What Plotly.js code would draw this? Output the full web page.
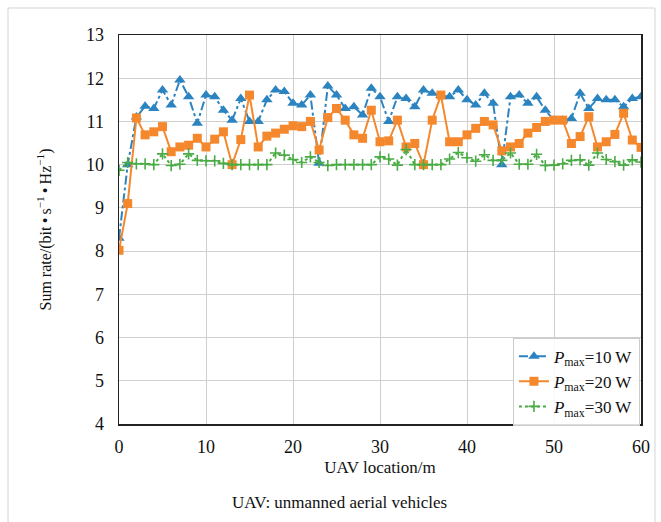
<!DOCTYPE html>
<html>
<head>
<meta charset="utf-8">
<script src="https://cdn.plot.ly/plotly-3.0.1.min.js"></script>
<style>html,body{margin:0;padding:0;background:#fff;}#chart{width:661px;height:522px;}</style>
</head>
<body>
<div id="chart"></div>
<script>
const locations = [0,1,2,3,4,5,6,7,8,9,10,11,12,13,14,15,16,17,18,19,20,21,22,23,24,25,26,27,28,29,30,31,32,33,34,35,36,37,38,39,40,41,42,43,44,45,46,47,48,49,50,51,52,53,54,55,56,57,58,59,60];
const rateP10 = [8.3,10.0,11.1,11.35,11.3,11.73,11.38,11.96,11.57,10.96,11.61,11.57,11.26,11.03,11.53,11.0,11.0,11.5,11.73,11.69,11.42,11.38,11.61,10.03,11.82,11.61,11.3,11.34,11.15,11.77,11.57,11.0,11.57,11.53,11.34,11.73,11.65,11.6,11.57,11.73,11.5,11.38,11.65,11.42,10.0,11.57,11.61,11.42,11.57,11.26,11.03,11.03,11.07,11.65,11.3,11.53,11.5,11.5,11.34,11.53,11.57];
const rateP20 = [8.02,9.1,11.08,10.69,10.76,10.88,10.3,10.41,10.45,10.61,10.41,10.59,10.76,10.0,10.58,11.61,10.41,10.66,10.73,10.82,10.9,10.88,11.0,10.34,11.09,11.3,11.03,10.69,10.61,11.26,10.53,10.55,11.03,10.41,10.49,10.0,11.03,11.61,10.53,10.53,10.69,10.84,11.0,10.92,10.32,10.41,10.49,10.73,10.86,11.0,11.03,11.03,10.49,10.65,11.11,10.41,10.53,10.7,11.19,10.57,10.4];
const rateP30 = [9.87,10.05,10.02,10.02,10.0,10.25,9.98,10.01,10.25,10.1,10.09,10.09,10.03,10.0,10.0,10.0,10.0,10.0,10.27,10.22,10.12,10.05,10.18,10.05,9.98,10.0,10.0,10.0,10.0,10.0,10.18,10.13,9.99,10.35,10.0,10.0,10.0,10.0,10.13,10.28,10.16,10.08,10.23,10.1,10.1,10.27,10.01,10.01,10.24,9.98,9.99,10.02,10.1,10.11,9.99,10.27,10.12,10.07,9.99,10.11,10.06];
const seriesNames = ['<i>P</i><sub>max</sub>=10 W','<i>P</i><sub>max</sub>=20 W','<i>P</i><sub>max</sub>=30 W'];
const xTickVals = [0,10,20,30,40,50,60];
const yTickVals = [4,5,6,7,8,9,10,11,12,13];

const serif = "'Liberation Serif', serif";
const traces = [
  {x: locations, y: rateP10, name: seriesNames[0], mode: 'lines+markers',
   line: {color: '#2b83c0', width: 2, dash: 'dashdot'},
   marker: {symbol: 'triangle-up', size: 10, color: '#2b83c0'}},
  {x: locations, y: rateP20, name: seriesNames[1], mode: 'lines+markers',
   line: {color: '#f5882c', width: 2},
   marker: {symbol: 'square', size: 9, color: '#f5882c'}},
  {x: locations, y: rateP30, name: seriesNames[2], mode: 'lines+markers',
   line: {color: '#4aac45', width: 2, dash: 'dot'},
   marker: {symbol: 'cross-thin', size: 8, color: '#4aac45', line: {color: '#4aac45', width: 1.6}}}
];

const frameColor = '#d4d4d4';
const layout = {
  width: 661, height: 522,
  margin: {l: 119, r: 20, t: 35, b: 98},
  paper_bgcolor: '#fff', plot_bgcolor: '#fff',
  font: {family: serif, size: 17, color: '#111'},
  showlegend: true,
  xaxis: {
    range: [0, 60], tickvals: xTickVals, showgrid: true, gridcolor: '#cfcfcf', gridwidth: 1,
    zeroline: false, showline: true, linecolor: '#222', linewidth: 1.5, mirror: true,
    ticks: 'outside', ticklen: 6, tickcolor: 'rgba(0,0,0,0)',
    tickfont: {family: serif, size: 18, color: '#111'},
    title: {text: 'UAV location/m', font: {family: serif, size: 17, color: '#111'}, standoff: 5}
  },
  yaxis: {
    range: [4, 13], tickvals: yTickVals, showgrid: true, gridcolor: '#cfcfcf', gridwidth: 1,
    zeroline: false, showline: true, linecolor: '#222', linewidth: 1.5, mirror: true,
    ticks: 'outside', ticklen: 10, tickcolor: 'rgba(0,0,0,0)',
    tickfont: {family: serif, size: 18, color: '#111'},
    title: {text: 'Sum rate/(bit\u2009•\u2009s<sup>\u22121</sup>\u2009•\u2009Hz<sup>\u22121</sup>)', font: {family: serif, size: 16, color: '#111'}, standoff: 30}
  },
  legend: {
    x: 0.998, y: 0.222, xanchor: 'right', yanchor: 'top',
    bgcolor: 'rgba(255,255,255,0.85)', bordercolor: '#cccccc', borderwidth: 1,
    font: {family: serif, size: 17, color: '#111'}, tracegroupgap: 0, itemwidth: 30
  },
  annotations: [
    {xref: 'paper', yref: 'paper', x: 0.423, y: -0.203, xanchor: 'center', yanchor: 'middle',
     text: 'UAV: unmanned aerial vehicles', showarrow: false, font: {family: serif, size: 17, color: '#111'}}
  ],
  shapes: [
    {type: 'line', xref: 'paper', yref: 'paper', x0: -0.2126, x1: -0.2126, y0: -0.26, y1: 1.0694, line: {color: frameColor, width: 1}},
    {type: 'line', xref: 'paper', yref: 'paper', x0: -0.2126, x1: 1.0268, y0: 1.0694, y1: 1.0694, line: {color: frameColor, width: 1}},
    {type: 'line', xref: 'paper', yref: 'paper', x0: 1.0268, x1: 1.0268, y0: -0.26, y1: 1.0694, line: {color: frameColor, width: 1}}
  ]
};
Plotly.newPlot('chart', traces, layout, {displayModeBar: false, staticPlot: true});
</script>
</body>
</html>
